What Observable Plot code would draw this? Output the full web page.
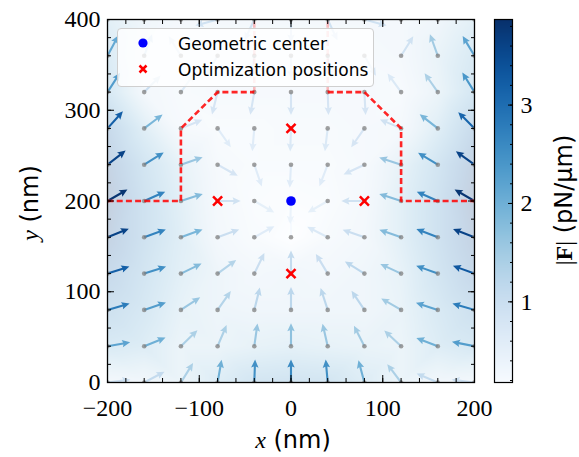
<!DOCTYPE html>
<html><head><meta charset="utf-8">
<script src="https://cdn.jsdelivr.net/npm/d3@7"></script>
<script src="https://cdn.jsdelivr.net/npm/@observablehq/plot@0.6"></script>
<style>
body{margin:0;background:#fff;}
#wrap{position:relative;width:579px;height:457px;overflow:hidden;background:#fff;}
#wrap > svg{position:absolute;top:0;}
.lbl{position:absolute;white-space:nowrap;transform:translate(-50%,-50%);color:#000;}
</style></head><body><div id="wrap"></div>
<script>
// grid positions (nm)
const xs = [-200, -160, -120, -80, -40, 0, 40, 80, 120, 160, 200];
const ys = [0, 40, 80, 120, 160, 200, 240, 280, 320, 360, 400];
// force direction (degrees, counter-clockwise from +x), one row per y
const angles = [
  [7, 28, 58, 80, 88, 90, 95, 105, 127, 157, 173],
  [10, 22, 44, 67, 82, 90, 103, 117, 137, 159, 169],
  [16, 19, 33, 55, 76, 90, 108, 124, 150, 162, 164],
  [18, 18, 26, 36, 64, 90, 121, 148, 155, 160, 160],
  [22, 20, 20, 20, 29, 90, 153, 161, 161, 159, 159],
  [30, 24, 18, 0, -30, -92, -150, 180, 162, 156, 150],
  [38, 32, 19, -29, -71, -93, -111, -155, 162, 149, 144],
  [48, 37, 22, -55, -95, -92, -97, -125, 157, 142, 135],
  [57, 45, 54, -104, -100, -90, -88, -87, 126, 125, 122],
  [62, 70, 122, -120, -100, -90, -80, -60, 58, 110, 121],
  [60, 70, 80, -165, -115, -90, -65, -15, 100, 110, 120]
];
// |F| (pN/um), one row per y
const mags = [
  [1.0, 1.1, 1.4, 2.0, 2.5, 2.6, 2.5, 2.0, 1.4, 1.1, 1.0],
  [2.2, 2.0, 1.4, 1.4, 1.6, 1.7, 1.6, 1.5, 1.4, 2.0, 2.3],
  [2.8, 2.3, 1.6, 1.3, 1.2, 1.2, 1.2, 1.2, 1.5, 2.2, 2.8],
  [3.2, 2.5, 1.8, 1.3, 1.0, 1.1, 1.0, 1.2, 1.6, 2.5, 3.3],
  [3.6, 2.7, 1.9, 1.0, 0.6, 0.2, 0.7, 1.0, 1.8, 2.7, 3.6],
  [3.8, 2.7, 1.8, 0.9, 0.5, 0.4, 0.5, 0.9, 1.8, 2.7, 3.8],
  [3.6, 2.5, 1.6, 0.8, 0.6, 0.6, 0.6, 0.8, 1.6, 2.5, 3.6],
  [3.2, 1.9, 0.8, 0.6, 0.6, 0.7, 0.7, 0.8, 0.9, 1.9, 3.1],
  [2.3, 1.0, 0.7, 0.8, 0.8, 0.8, 0.8, 0.8, 0.7, 1.4, 2.4],
  [2.1, 1.1, 0.8, 0.8, 0.8, 0.8, 0.8, 0.8, 0.9, 1.5, 2.2],
  [1.8, 1.2, 0.9, 0.9, 0.9, 0.9, 0.9, 0.9, 0.9, 1.2, 1.8]
];
const centerX = [0], centerY = [200];
const optX = [0, -80, 80, 0], optY = [280, 200, 200, 120];
const leftBoundX = [-200, -120, -120, -80, -40], leftBoundY = [200, 200, 280, 320, 320];
const rightBoundX = [40, 80, 120, 120, 200], rightBoundY = [320, 320, 280, 200, 200];
const topLeftX = [-40, -40], topRightX = [40, 40], topY = [320, 400];
const xTicks = [-200, -100, 0, 100, 200];
const yTicks = [0, 100, 200, 300, 400];
const cbTicks = [1, 2, 3];
const colorDomain = [0.18, 3.87];

const field = [];
ys.forEach((y, j) => xs.forEach((x, i) => field.push({x, y, a: angles[j][i], m: mags[j][i]})));
const pts = (X, Y) => X.map((x, i) => ({x, y: Y[i]}));

const serif = "'Liberation Serif', 'DejaVu Serif', serif";
const sans = "'DejaVu Sans', sans-serif";
const fmt = d => d < 0 ? "\u2212" + Math.abs(d) : String(d);
const colorOpts = {type: "linear", scheme: "blues", domain: colorDomain, clamp: true};
const dash = {stroke: "red", strokeWidth: 2.6, strokeDasharray: "6,3.2", strokeLinecap: "butt", strokeLinejoin: "miter"};

const arrowShape = {
  draw(ctx, l) {
    const w = 1.05, hw = 3.7, hl = 8, ha = 7;
    ctx.moveTo(-w, 0);
    ctx.lineTo(-w, -(l - ha));
    ctx.lineTo(-hw, -(l - hl));
    ctx.lineTo(0, -l);
    ctx.lineTo(hw, -(l - hl));
    ctx.lineTo(w, -(l - ha));
    ctx.lineTo(w, 0);
    ctx.closePath();
  }
};

const W = 579, H = 457, mT = 19, mB = 75;
const main = Plot.plot({
  width: W, height: H,
  marginLeft: 107, marginRight: 105, marginTop: mT, marginBottom: mB,
  x: {domain: [-200, 200]},
  y: {domain: [0, 400]},
  color: colorOpts,
  style: {background: "transparent", fontFamily: serif, color: "black"},
  marks: [
    Plot.raster(field, {x: "x", y: "y", fill: "m", interpolate: "barycentric", x1: -200, x2: 200, y1: 0, y2: 400, opacity: 0.23}),
    Plot.vector(field, {x: "x", y: "y", rotate: d => 90 - d.a, length: 23, anchor: "start", shape: arrowShape, fill: "m", stroke: "none", clip: true}),
    Plot.dot(field, {x: "x", y: "y", r: 2.3, fill: "#808080", fillOpacity: 0.75, stroke: "none", clip: true}),
    Plot.line(pts(topLeftX, topY), {x: "x", y: "y", ...dash, strokeOpacity: 0.25, clip: true}),
    Plot.line(pts(topRightX, topY), {x: "x", y: "y", ...dash, strokeOpacity: 0.25, clip: true}),
    Plot.line(pts(leftBoundX, leftBoundY), {x: "x", y: "y", ...dash, strokeOpacity: 0.85}),
    Plot.line(pts(rightBoundX, rightBoundY), {x: "x", y: "y", ...dash, strokeOpacity: 0.85}),
    Plot.dot(pts(optX, optY), {x: "x", y: "y", symbol: "times", stroke: "red", strokeWidth: 2.5, r: 4.2}),
    Plot.dot(pts(centerX, centerY), {x: "x", y: "y", fill: "blue", stroke: "none", r: 4.8}),
    // tick labels
    Plot.axisX({ticks: xTicks, tickSize: 0, tickPadding: 16, tickFormat: fmt, fontSize: 24, label: null}),
    Plot.axisY({ticks: yTicks, tickSize: 0, tickPadding: 7, tickFormat: fmt, fontSize: 24, label: null}),
    // inward ticks on all four sides
    Plot.axisX({anchor: "bottom", ticks: xTicks, tickSize: -7, fill: "none", label: null}),
    Plot.axisX({anchor: "bottom", ticks: d3.range(-200, 201, 20), tickSize: -4, fill: "none", label: null}),
    Plot.axisX({anchor: "top", ticks: xTicks, tickSize: -7, fill: "none", label: null}),
    Plot.axisX({anchor: "top", ticks: d3.range(-200, 201, 20), tickSize: -4, fill: "none", label: null}),
    Plot.axisY({anchor: "left", ticks: yTicks, tickSize: -7, fill: "none", label: null}),
    Plot.axisY({anchor: "left", ticks: d3.range(0, 401, 20), tickSize: -4, fill: "none", label: null}),
    Plot.axisY({anchor: "right", ticks: yTicks, tickSize: -7, fill: "none", label: null}),
    Plot.axisY({anchor: "right", ticks: d3.range(0, 401, 20), tickSize: -4, fill: "none", label: null}),
    Plot.frame({stroke: "black", strokeWidth: 1.3})
  ]
});
main.style.left = "0px";

// colorbar
const cb = Plot.plot({
  width: 99, height: H,
  marginLeft: 14, marginRight: 67, marginTop: mT, marginBottom: mB,
  x: {domain: [0, 1], axis: null},
  y: {domain: colorDomain},
  color: colorOpts,
  style: {background: "transparent", fontFamily: serif, color: "black"},
  marks: [
    Plot.raster({x1: 0, x2: 1, y1: colorDomain[0], y2: colorDomain[1], fill: (x, y) => y, pixelSize: 1}),
    Plot.axisY({anchor: "right", ticks: cbTicks, tickSize: 0, tickPadding: 8, tickFormat: d => String(d), fontSize: 24, label: null}),
    Plot.axisY({anchor: "right", ticks: cbTicks, tickSize: -5, fill: "none", label: null}),
    Plot.axisY({anchor: "right", ticks: d3.range(0.2, 3.87, 0.2), tickSize: -3, fill: "none", label: null}),
    Plot.frame({stroke: "black", strokeWidth: 1.2})
  ]
});
cb.style.left = "480px";

const wrap = document.getElementById("wrap");
wrap.appendChild(main);
wrap.appendChild(cb);

function addLabel(html, x, y, size, rotate) {
  const d = document.createElement("div");
  d.className = "lbl";
  d.style.left = x + "px";
  d.style.top = y + "px";
  d.style.fontSize = size + "px";
  d.style.fontFamily = sans;
  if (rotate) d.style.transform = "translate(-50%,-50%) rotate(-90deg)";
  d.innerHTML = html;
  wrap.appendChild(d);
}
addLabel(`<i style="font-family:${serif}">x</i> (nm)`, 293, 440, 24, false);
addLabel(`<i style="font-family:${serif}">y</i> (nm)`, 30, 203, 24, true);
addLabel(`<span style="font-family:${serif}">|<b>F</b>|</span> (pN/μm)`, 564, 200, 24, true);

// legend
const leg = document.createElement("div");
leg.style.cssText = "position:absolute;left:117px;top:28px;width:257px;height:59px;box-sizing:border-box;border:1.3px solid #cfcfcf;border-radius:4px;background:rgba(255,255,255,0.8);";
leg.innerHTML = `<svg width="257" height="59" style="position:absolute;left:-1px;top:-1px;overflow:visible">
  <circle cx="26" cy="15" r="4.6" fill="blue"/>
  <path d="M22.5,37.5L29.5,44.5M29.5,37.5L22.5,44.5" stroke="red" stroke-width="2.5"/>
  <text x="61" y="21.5" font-family="${sans}" font-size="17" fill="#000">Geometric center</text>
  <text x="61" y="47.5" font-family="${sans}" font-size="17" fill="#000">Optimization positions</text>
</svg>`;
wrap.appendChild(leg);
</script>
</body></html>
